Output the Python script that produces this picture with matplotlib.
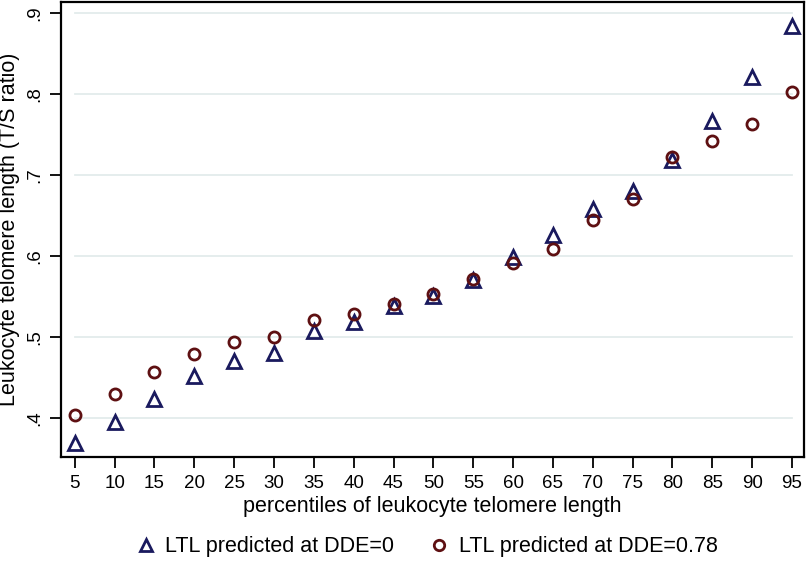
import matplotlib
matplotlib.use("Agg")
import matplotlib.pyplot as plt
from matplotlib.lines import Line2D

plt.rcParams["font.family"] = ["Liberation Sans", "DejaVu Sans"]

# percentiles and predicted LTL values
percentiles = [5, 10, 15, 20, 25, 30, 35, 40, 45, 50, 55, 60, 65, 70, 75, 80, 85, 90, 95]
ltl_dde0 = [0.369, 0.395, 0.423, 0.452, 0.470, 0.480, 0.507, 0.519, 0.538, 0.551, 0.570,
            0.599, 0.626, 0.658, 0.680, 0.718, 0.767, 0.821, 0.884]
ltl_dde078 = [0.404, 0.430, 0.457, 0.479, 0.494, 0.500, 0.521, 0.529, 0.541, 0.553, 0.572,
              0.591, 0.609, 0.644, 0.670, 0.722, 0.742, 0.763, 0.802]
yticks = [0.4, 0.5, 0.6, 0.7, 0.8, 0.9]
ytick_labels = [".4", ".5", ".6", ".7", ".8", ".9"]

navy = "#1a1a5e"
maroon = "#5e1012"

fig = plt.figure(figsize=(8.06, 5.62), dpi=100)
ax = fig.add_axes([0.0757, 0.1868, 0.9218, 0.8096])

# grid lines only across the data range, like Stata
for yv in yticks:
    ax.plot([percentiles[0], percentiles[-1]], [yv, yv], color="#e3ecec", lw=1.3, zorder=0)

ax.plot(percentiles, ltl_dde0, linestyle="none", marker="^", ms=10, mfc="none",
        mec=navy, mew=2.0, zorder=3)
ax.plot(percentiles, ltl_dde078, linestyle="none", marker="o", ms=8, mfc="none",
        mec=maroon, mew=2.0, zorder=4)

ax.set_xlim(3.28, 96.5)
ax.set_ylim(0.352, 0.9136)
ax.set_xticks(percentiles)
ax.set_xticklabels([str(p) for p in percentiles])
ax.set_yticks(yticks)
ax.set_yticklabels(ytick_labels, rotation=90, va="center")

for s in ax.spines.values():
    s.set_linewidth(1.6)
    s.set_color("black")
ax.tick_params(axis="both", direction="out", length=8, width=1.3, labelsize=13.5, pad=5)

ax.set_xlabel("percentiles of leukocyte telomere length", fontsize=15.5, labelpad=3)
ax.set_ylabel("Leukocyte telomere length (T/S ratio)", fontsize=15.5, labelpad=4)

handles = [
    Line2D([], [], linestyle="none", marker="^", ms=9, mfc="none", mec=navy, mew=2.0),
    Line2D([], [], linestyle="none", marker="o", ms=7.5, mfc="none", mec=maroon, mew=2.0),
]
fig.legend(handles, ["LTL predicted at DDE=0", "LTL predicted at DDE=0.78"],
           loc="center", bbox_to_anchor=(0.529, 0.027), ncol=2, frameon=False,
           fontsize=15.5, handletextpad=0.4, columnspacing=1.6, handlelength=1.0)

fig.savefig("out.png", dpi=100)
